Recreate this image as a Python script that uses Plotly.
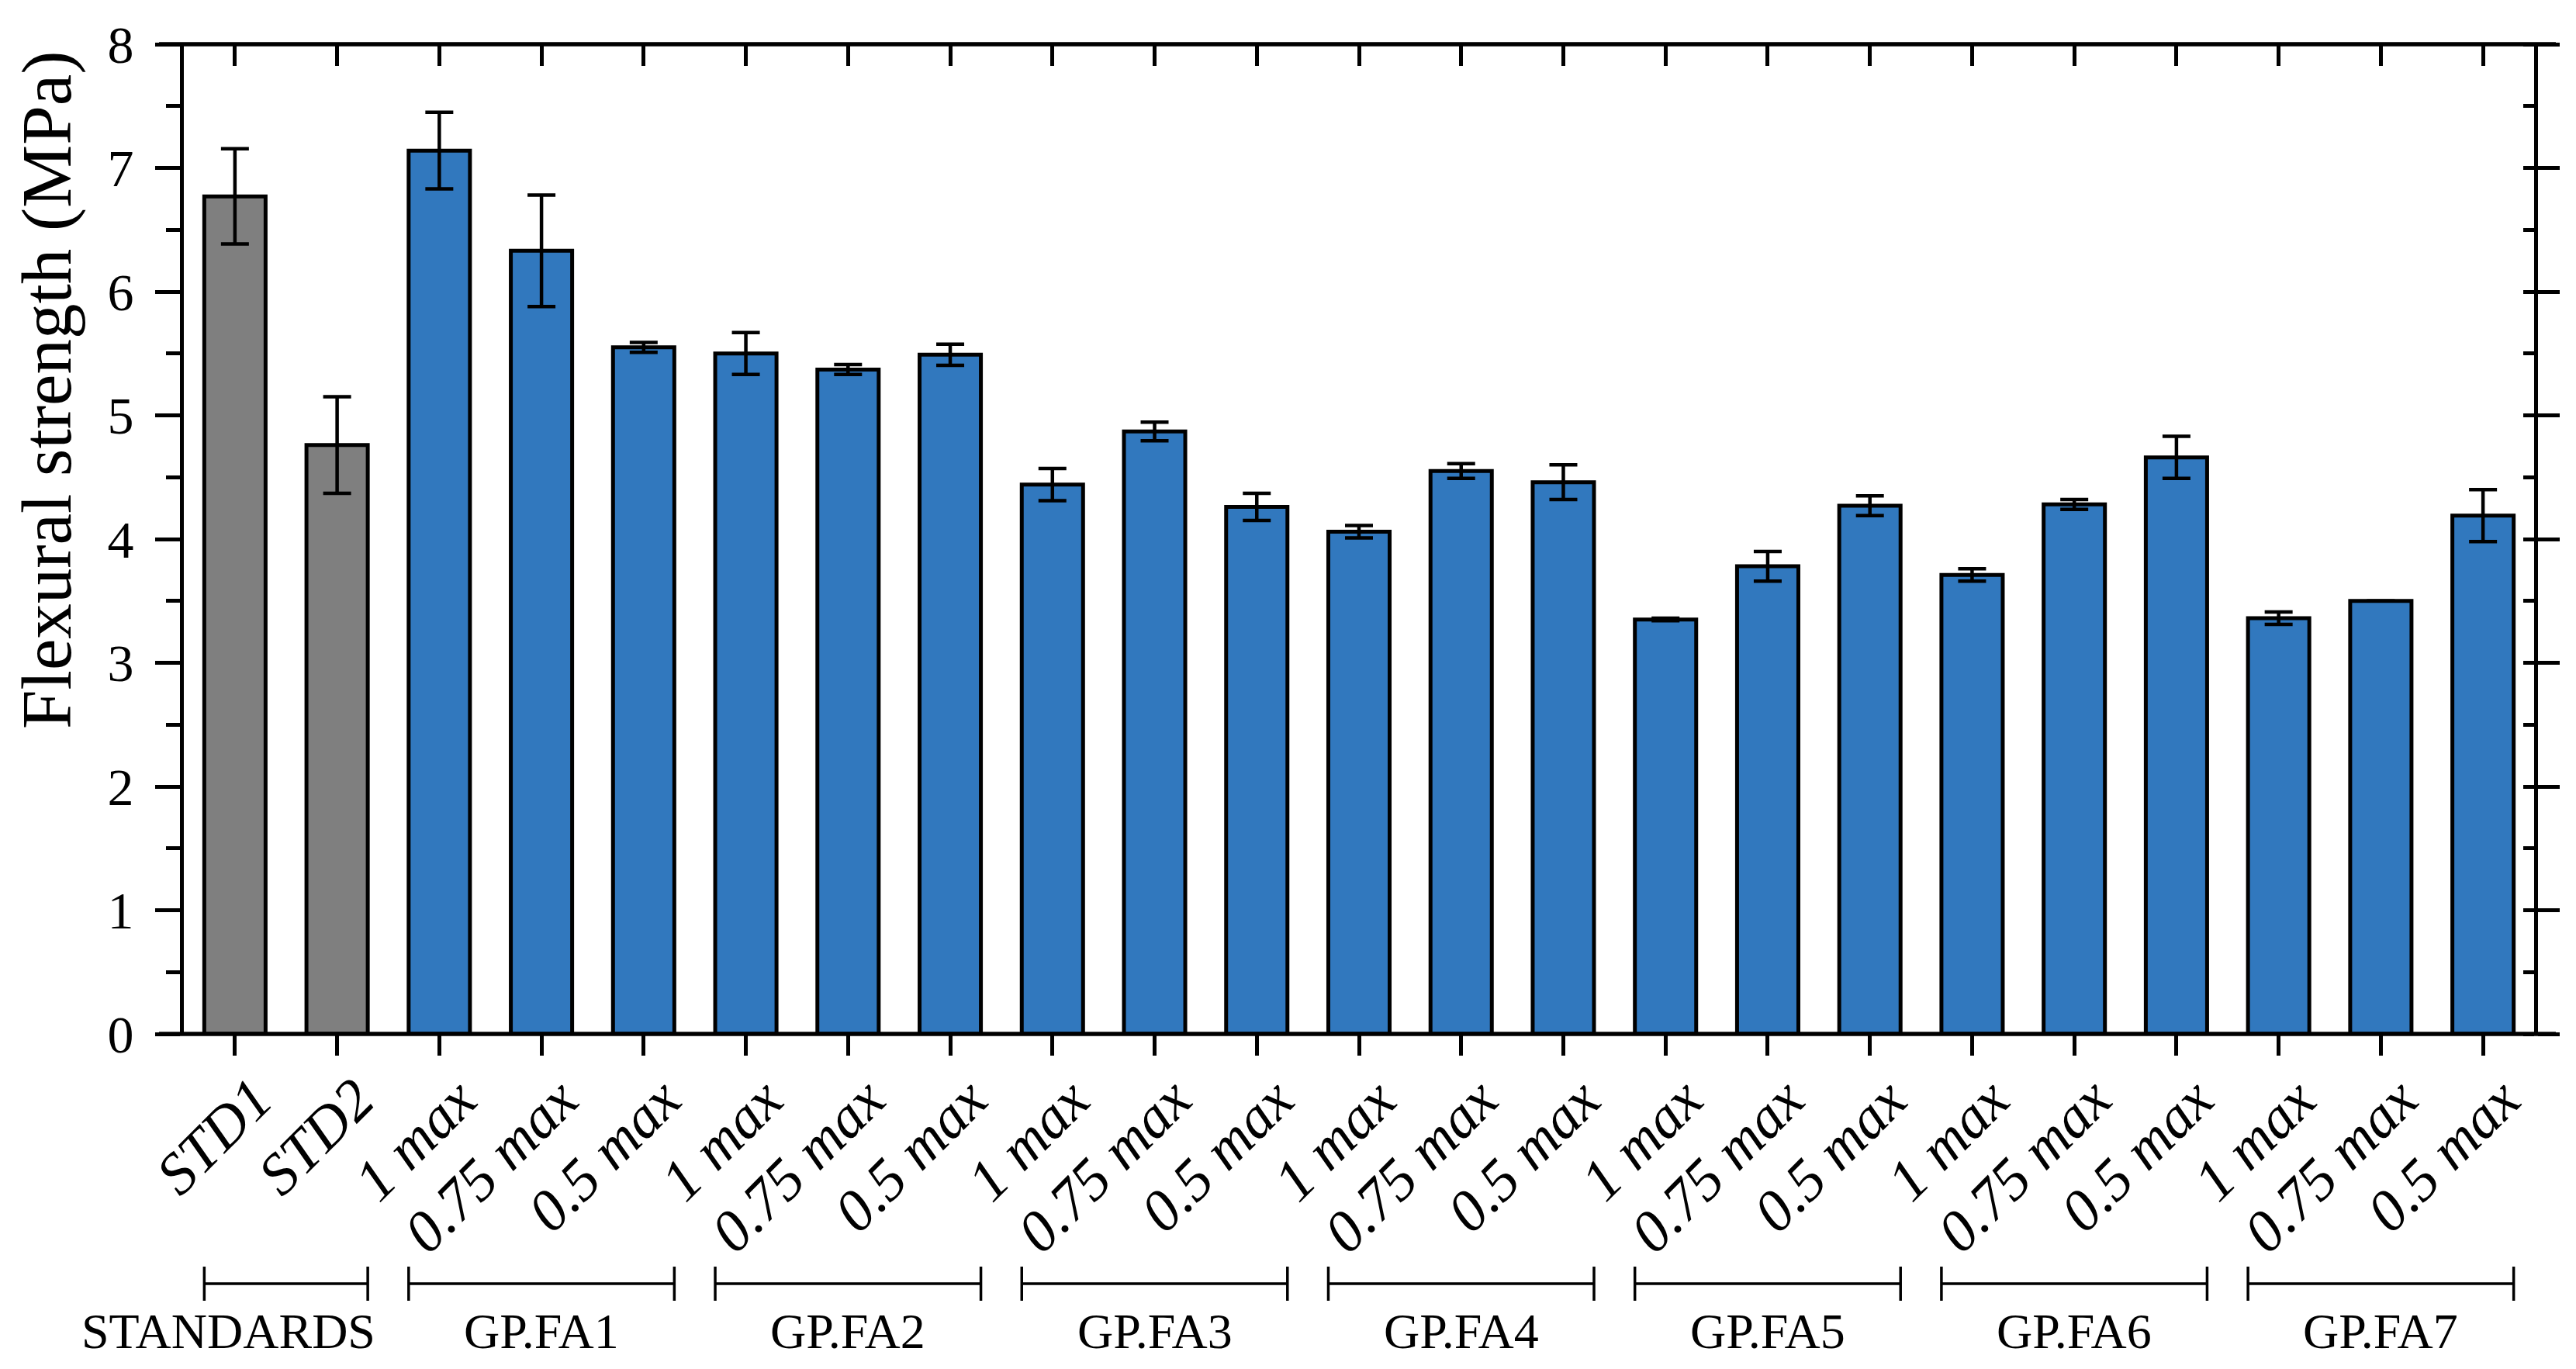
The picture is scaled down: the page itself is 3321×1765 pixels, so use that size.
import plotly.graph_objects as go

# ---------------- data ----------------
categories = ["STD1", "STD2",
              "1 max", "0.75 max", "0.5 max",
              "1 max", "0.75 max", "0.5 max",
              "1 max", "0.75 max", "0.5 max",
              "1 max", "0.75 max", "0.5 max",
              "1 max", "0.75 max", "0.5 max",
              "1 max", "0.75 max", "0.5 max",
              "1 max", "0.75 max", "0.5 max"]
groups = ["STANDARDS", "GP.FA1", "GP.FA2", "GP.FA3", "GP.FA4", "GP.FA5", "GP.FA6", "GP.FA7"]
group_sizes = [2, 3, 3, 3, 3, 3, 3, 3]
values = [6.77, 4.76,
          7.14, 6.33, 5.55,
          5.50, 5.37, 5.49,
          4.44, 4.87, 4.26,
          4.06, 4.55, 4.46,
          3.35, 3.78, 4.27,
          3.71, 4.28, 4.66,
          3.36, 3.50, 4.19]
errors = [0.385, 0.39,
          0.31, 0.45, 0.04,
          0.17, 0.04, 0.085,
          0.13, 0.075, 0.11,
          0.05, 0.06, 0.14,
          0.01, 0.12, 0.08,
          0.05, 0.04, 0.17,
          0.05, 0.0, 0.21]
y_ticks = [0, 1, 2, 3, 4, 5, 6, 7, 8]

GRAY = "#7F7F7F"
BLUE = "#3178BE"
FONT = "Liberation Serif"

x = list(range(len(categories)))
colors = []
for g, n in zip(groups, group_sizes):
    colors += [GRAY if g == "STANDARDS" else BLUE] * n

W, H = 3321, 1765
ML, MR, MT, MB = 237, 54, 57, 432
PW = W - ML - MR
PH = H - MT - MB

fig = go.Figure()
fig.add_trace(go.Bar(
    x=x, y=values, width=0.6,
    marker=dict(color=colors, line=dict(color="black", width=5)),
    error_y=dict(type="data", array=errors, visible=True,
                 color="black", thickness=4.5, width=18),
    hoverinfo="x+y", showlegend=False))
# invisible trace for mirrored (top / right) axes
fig.add_trace(go.Scatter(x=[0], y=[0], xaxis="x2", yaxis="y2", mode="markers",
                         marker=dict(opacity=0), hoverinfo="skip", showlegend=False))

xr = [-0.5, len(categories) - 0.5]
fig.update_layout(
    width=W, height=H,
    margin=dict(l=ML, r=MR, t=MT, b=MB, pad=0),
    paper_bgcolor="white", plot_bgcolor="white",
    font=dict(family=FONT, color="black"),
    bargap=0.4,
    xaxis=dict(range=xr, tickmode="array", tickvals=x, showticklabels=False,
               ticks="outside", ticklen=27, tickwidth=4.5, tickcolor="black",
               showgrid=False, zeroline=False, showline=False),
    xaxis2=dict(range=xr, overlaying="x", side="top", tickmode="array", tickvals=x,
                showticklabels=False, ticks="inside", ticklen=28, tickwidth=4.5,
                tickcolor="black", showgrid=False, zeroline=False, showline=False),
    yaxis=dict(range=[0, 8], tickmode="array", tickvals=y_ticks,
               ticks="outside", ticklen=32, tickwidth=5, tickcolor="black",
               minor=dict(ticks="outside", ticklen=18, tickwidth=5, tickcolor="black", dtick=0.5, showgrid=False),
               tickfont=dict(family=FONT, size=68, color="black"),
               ticklabelstandoff=14,
               showgrid=False, zeroline=False, showline=True, linewidth=5, linecolor="black"),
    yaxis2=dict(range=[0, 8], overlaying="y", side="right", tickmode="array", tickvals=y_ticks,
                showticklabels=False, ticks="outside", ticklen=28, tickwidth=5, tickcolor="black",
                minor=dict(ticks="inside", ticklen=14, tickwidth=5, tickcolor="black", dtick=0.5, showgrid=False),
                showgrid=False, zeroline=False, showline=True, linewidth=5, linecolor="black"),
)

shapes = []
# horizontal frame lines extended past the vertical axes
ext_l = 32 / PW
ext_r = 28 / PW
for yy in (0, 1):
    shapes.append(dict(type="line", xref="paper", yref="paper", x0=-ext_l, x1=1 + ext_r,
                       y0=yy, y1=yy, line=dict(color="black", width=5.5), layer="above"))

annotations = []
# category labels (rotated, italic)
for xi, lab in zip(x, categories):
    annotations.append(dict(x=xi, y=0, xref="x", yref="paper", text=lab, showarrow=False,
                            textangle=-45, xanchor="right", yanchor="top",
                            xshift=66, yshift=-38,
                            font=dict(family=FONT, size=76, color="black", style="italic")))

# group brackets and labels
y_line = (MT + PH - 1655) / PH
y_cap0 = (MT + PH - 1633) / PH
y_cap1 = (MT + PH - 1677) / PH
y_glab = (MT + PH - 1716) / PH
start = 0
for g, n in zip(groups, group_sizes):
    a = start - 0.3
    b = start + n - 1 + 0.3
    line = dict(color="black", width=3.5)
    shapes.append(dict(type="line", xref="x", yref="paper", x0=a, x1=b, y0=y_line, y1=y_line, line=line))
    shapes.append(dict(type="line", xref="x", yref="paper", x0=a, x1=a, y0=y_cap0, y1=y_cap1, line=line))
    shapes.append(dict(type="line", xref="x", yref="paper", x0=b, x1=b, y0=y_cap0, y1=y_cap1, line=line))
    cx = start + (n - 1) / 2
    shift = 0
    if g == "STANDARDS":
        cx = start
        shift = -8
    annotations.append(dict(x=cx, y=y_glab, xref="x", yref="paper", text=g, showarrow=False,
                            xanchor="center", yanchor="middle", xshift=shift,
                            font=dict(family=FONT, size=64, color="black")))
    start += n

# y-axis title
annotations.append(dict(x=(60 - ML) / PW, y=(MT + PH - 503) / PH, xref="paper", yref="paper",
                        text="Flexural strength (MPa)", showarrow=False, textangle=-90,
                        xanchor="center", yanchor="middle",
                        font=dict(family=FONT, size=91, color="black")))

fig.update_layout(shapes=shapes, annotations=annotations)
fig.write_html("out.html", config={"displayModeBar": False},
               post_script="document.body.style.margin='0';")
